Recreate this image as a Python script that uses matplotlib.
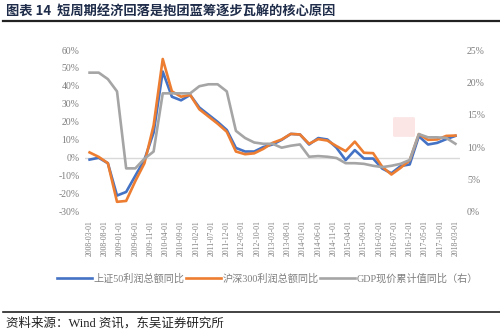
import matplotlib
matplotlib.use("Agg")
import matplotlib.pyplot as plt
import pandas as pd
from matplotlib.patches import FancyBboxPatch

plt.rcParams['font.family'] = ['Liberation Serif', 'Noto Sans CJK SC', 'DejaVu Sans']

dates = ["2008-03", "2008-06", "2008-09", "2008-12", "2009-03", "2009-06", "2009-09", "2009-12",
         "2010-03", "2010-06", "2010-09", "2010-12", "2011-03", "2011-06", "2011-09", "2011-12",
         "2012-03", "2012-06", "2012-09", "2012-12", "2013-03", "2013-06", "2013-09", "2013-12",
         "2014-03", "2014-06", "2014-09", "2014-12", "2015-03", "2015-06", "2015-09", "2015-12",
         "2016-03", "2016-06", "2016-09", "2016-12", "2017-03", "2017-06", "2017-09", "2017-12",
         "2018-03"]
sse50 = [-1, 0, -3, -21, -19, -10, -1, 14, 48, 34, 32, 35, 28, 24, 20, 15.5,
         5.5, 3.5, 3.5, 6, 7.4, 10, 13.3, 13, 7.4, 11, 10.2, 5.6, -1.3, 4.3, -0.4, -0.4,
         -6, -8.6, -4.6, -3.7, 12, 7.4, 8.3, 10.4, 12.2]
hs300 = [3, 0.5, -3, -24.5, -24, -13, -3, 18, 55, 37, 34, 35, 27, 23, 19, 14.5,
         3.5, 2, 2.5, 5, 8.3, 10.2, 13.3, 13, 7.8, 10.4, 9.6, 6.5, 3.7, 9, 2.8, 2.6,
         -5, -9.3, -5.6, -1.4, 13.2, 10, 10.2, 12.2, 12.4]
gdp = [21.5, 21.5, 20.5, 18.6, 6.7, 6.7, 8.2, 9.3, 18.3, 18.3, 18.3, 18.3, 19.4, 19.7, 19.7, 18.6,
       12.5, 11.4, 10.7, 10.5, 10.5, 9.9, 10.2, 10.4, 8.5, 8.6, 8.5, 8.3, 7.5, 7.5, 7.4, 7.1,
       6.9, 7.1, 7.4, 8.0, 12.0, 11.5, 11.5, 11.4, 10.5]
tick_labels = ["2008-03-01", "2008-08-01", "2009-01-01", "2009-06-01", "2009-11-01", "2010-04-01",
               "2010-09-01", "2011-02-01", "2011-07-01", "2011-12-01", "2012-05-01", "2012-10-01",
               "2013-03-01", "2013-08-01", "2014-01-01", "2014-06-01", "2014-11-01", "2015-04-01",
               "2015-09-01", "2016-02-01", "2016-07-01", "2016-12-01", "2017-05-01", "2017-10-01",
               "2018-03-01"]
labels = ["上证50利润总额同比", "沪深300利润总额同比", "GDP现价累计值同比（右）"]
title = "图表 14  短周期经济回落是抱团蓝筹逐步瓦解的核心原因"
source = "资料来源：Wind 资讯，东吴证券研究所"

base = pd.Timestamp("2008-03-01")
def months(s):
    t = pd.Timestamp(s)
    return (t.year - base.year) * 12 + (t.month - base.month)

x = [months(d) for d in dates]
xt = [months(d) for d in tick_labels]

fig = plt.figure(figsize=(5.0, 3.29), dpi=100)
ax = fig.add_axes([0.17, 0.3565, 0.75, 0.4915])
ax2 = ax.twinx()

c_blue, c_orange, c_gray = "#4472C4", "#ED7D31", "#A5A5A5"
tick_col = "#7F7F7F"

ax.axhline(0, color="#D9D9D9", lw=1.0, zorder=1)
l1, = ax.plot(x, sse50, color=c_blue, lw=1.9, zorder=3, solid_joinstyle='round')
l2, = ax.plot(x, hs300, color=c_orange, lw=1.9, zorder=4, solid_joinstyle='round')
l3, = ax2.plot(x, gdp, color=c_gray, lw=1.9, zorder=3, solid_joinstyle='round')

ax.set_ylim(-30, 60)
ax2.set_ylim(0, 25)
ax.set_xlim(-1.5, 121.5)
ax.set_yticks(range(-30, 61, 10))
ax.set_yticklabels([f"{v}%" for v in range(-30, 61, 10)])
ax2.set_yticks(range(0, 26, 5))
ax2.set_yticklabels([f"{v}%" for v in range(0, 26, 5)])
ax.set_xticks(xt)
ax.set_xticklabels(tick_labels, rotation=90)

for a in (ax, ax2):
    for s in a.spines.values():
        s.set_visible(False)
    a.tick_params(length=0, colors=tick_col, labelsize=7)
ax.tick_params(axis='x', labelsize=5.6, pad=6)
ax.tick_params(axis='y', pad=4)
ax2.tick_params(axis='y', pad=5)

# faint watermark
wm = FancyBboxPatch((0.79, 0.588), 0.036, 0.052, boxstyle="round,pad=0.004",
                    transform=fig.transFigure, facecolor="#FBE3E3", edgecolor="none", alpha=0.9)
fig.patches.append(wm)

fig.legend([l1, l2, l3], labels, loc="center", bbox_to_anchor=(0.535, 0.153), ncol=3,
           frameon=False, handlelength=3.4, handletextpad=0.15, columnspacing=0.2,
           labelcolor=tick_col, prop={'family': ['Liberation Serif', 'Noto Sans CJK SC'], 'size': 7.3})

fig.text(0.012, 0.968, title, fontsize=9.5, fontweight="bold", color="#1F2D4A",
         va="center", ha="left", family=['Noto Sans CJK SC', 'DejaVu Sans'])
fig.add_artist(plt.Line2D([0.006, 1.0], [0.935, 0.935], color="#222222", lw=1.6, transform=fig.transFigure))
fig.add_artist(plt.Line2D([0.006, 1.0], [0.052, 0.052], color="#222222", lw=1.2, transform=fig.transFigure))
fig.text(0.012, 0.018, source, fontsize=9, color="#222222", va="center", ha="left",
         family=['Liberation Serif', 'Noto Sans CJK SC'])

fig.savefig("out.png", dpi=100)
